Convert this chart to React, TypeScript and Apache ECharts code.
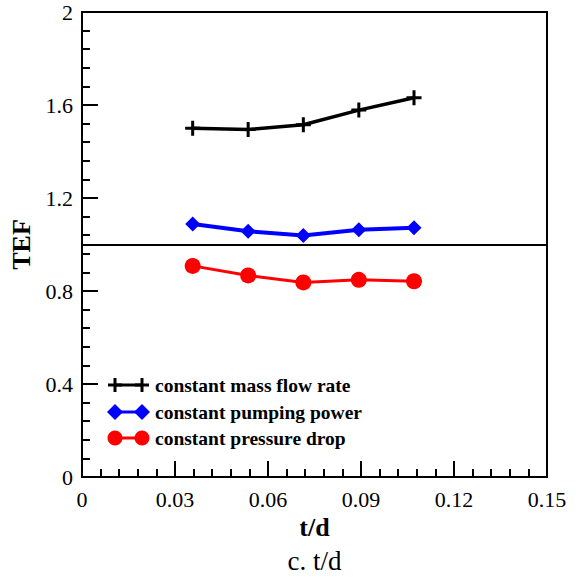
import React, { useEffect, useRef } from "react";
import * as echarts from "echarts";

const tdValues = [0.0357, 0.0536, 0.0714, 0.0893, 0.1071];
const massFlowRate = [1.5, 1.495, 1.515, 1.578, 1.631];
const pumpingPower = [1.088, 1.057, 1.039, 1.063, 1.072];
const pressureDrop = [0.908, 0.867, 0.837, 0.848, 0.842];
const seriesNames = [
  "constant mass flow rate",
  "constant pumping power",
  "constant pressure drop",
];
const referenceTEF = 1;

const FONT = "'Liberation Serif', 'Times New Roman', serif";
const CROSS = "path://M6,0 H9 V6 H15 V9 H9 V15 H6 V9 H0 V6 H6 Z";

function pairs(ys: number[]) {
  return tdValues.map((x, i) => [x, ys[i]]);
}

function legendRow(idx: number, y: number, color: string) {
  const x1 = 115;
  const x2 = 142;
  const children: any[] = [
    {
      type: "line",
      shape: { x1, y1: y, x2, y2: y },
      style: { stroke: color, lineWidth: 3 },
    },
  ];
  [x1, x2].forEach((cx) => {
    if (idx === 0) {
      children.push({
        type: "rect",
        shape: { x: cx - 1.5, y: y - 7, width: 3, height: 14 },
        style: { fill: color },
      });
      children.push({
        type: "rect",
        shape: { x: cx - 7, y: y - 1.5, width: 14, height: 3 },
        style: { fill: color },
      });
    } else if (idx === 1) {
      children.push({
        type: "polygon",
        shape: {
          points: [
            [cx, y - 8],
            [cx + 8, y],
            [cx, y + 8],
            [cx - 8, y],
          ],
        },
        style: { fill: color },
      });
    } else {
      children.push({
        type: "circle",
        shape: { cx, cy: y, r: 7.5 },
        style: { fill: color },
      });
    }
  });
  children.push({
    type: "text",
    x: 155,
    y,
    style: {
      text: seriesNames[idx],
      fontFamily: FONT,
      fontWeight: "bold",
      fontSize: 19.5,
      fill: "#000",
      verticalAlign: "middle",
      align: "left",
    },
  });
  return { type: "group", children };
}

export default function App() {
  const ref = useRef<HTMLDivElement>(null);
  useEffect(() => {
    if (!ref.current) return;
    const chart = echarts.init(ref.current, undefined, { renderer: "svg" });
    const axisCommon = {
      axisLine: { show: true, lineStyle: { color: "#000", width: 2 } },
      axisTick: { show: true, inside: true, length: 16, lineStyle: { color: "#000", width: 2 } },
      minorTick: { show: true, splitNumber: 5, length: 8, lineStyle: { color: "#000", width: 2 } },
      splitLine: { show: false },
      minorSplitLine: { show: false },
    };
    chart.setOption({
      animation: false,
      backgroundColor: "#fff",
      grid: {
        left: 82,
        right: 29,
        top: 12,
        bottom: 100,
        show: true,
        borderColor: "#000",
        borderWidth: 2,
        backgroundColor: "transparent",
      },
      xAxis: {
        type: "value",
        min: 0,
        max: 0.15,
        interval: 0.03,
        ...axisCommon,
        axisLabel: {
          fontFamily: FONT,
          fontSize: 22,
          color: "#000",
          margin: 11,
          formatter: (v: number) => String(parseFloat(v.toFixed(2))),
        },
        name: "t/d",
        nameLocation: "middle",
        nameGap: 37,
        nameTextStyle: { fontFamily: FONT, fontWeight: "bold", fontSize: 26, color: "#000" },
      },
      yAxis: {
        type: "value",
        min: 0,
        max: 2,
        interval: 0.4,
        ...axisCommon,
        axisLabel: {
          fontFamily: FONT,
          fontSize: 22,
          color: "#000",
          margin: 9,
          formatter: (v: number) => String(parseFloat(v.toFixed(1))),
        },
        name: "TEF",
        nameLocation: "middle",
        nameGap: 44,
        nameTextStyle: { fontFamily: FONT, fontWeight: "bold", fontSize: 26, color: "#000" },
      },
      graphic: [
        legendRow(0, 385, "#000"),
        legendRow(1, 412, "#0000ff"),
        legendRow(2, 438, "#ff0000"),
        {
          type: "text",
          x: 314.5,
          y: 561,
          style: {
            text: "c. t/d",
            fontFamily: FONT,
            fontSize: 27,
            fill: "#000",
            align: "center",
            verticalAlign: "middle",
          },
        },
      ],
      series: [
        {
          name: seriesNames[0],
          type: "line",
          data: pairs(massFlowRate),
          symbol: CROSS,
          symbolSize: 15,
          lineStyle: { color: "#000", width: 3.5 },
          itemStyle: { color: "#000" },
          markLine: {
            silent: true,
            symbol: ["none", "none"],
            label: { show: false },
            lineStyle: { color: "#000", width: 2, type: "solid" },
            data: [{ yAxis: referenceTEF }],
          },
          z: 3,
        },
        {
          name: seriesNames[1],
          type: "line",
          data: pairs(pumpingPower),
          symbol: "diamond",
          symbolSize: 15,
          lineStyle: { color: "#0000ff", width: 4 },
          itemStyle: { color: "#0000ff" },
          z: 3,
        },
        {
          name: seriesNames[2],
          type: "line",
          data: pairs(pressureDrop),
          symbol: "circle",
          symbolSize: 16,
          lineStyle: { color: "#ff0000", width: 3 },
          itemStyle: { color: "#ff0000" },
          z: 3,
        },
      ],
    });
    return () => chart.dispose();
  }, []);
  return (
    <div
      ref={ref}
      style={{ position: "absolute", left: 0, top: 0, width: 576, height: 577 }}
    />
  );
}
